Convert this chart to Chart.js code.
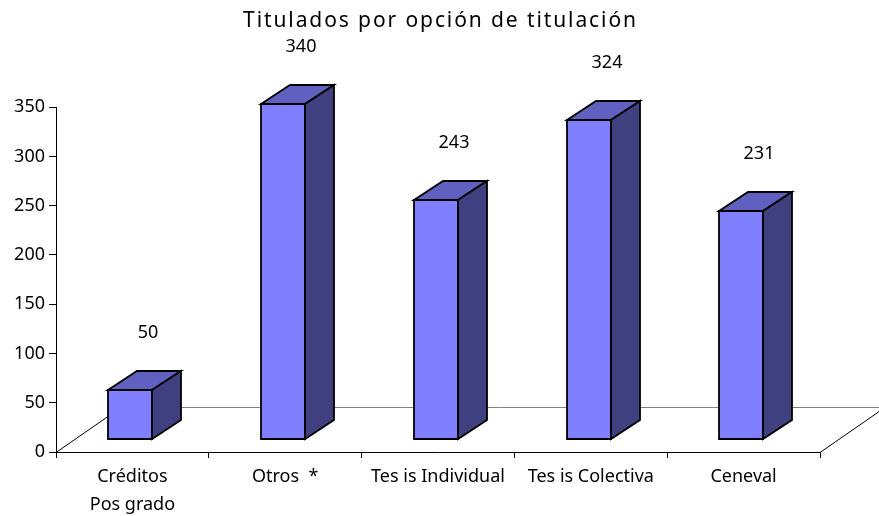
<!DOCTYPE html>
<html>
<head>
<meta charset="utf-8">
<title>Titulados por opción de titulación</title>
<script src="https://cdn.jsdelivr.net/npm/chart.js@4.4.1/dist/chart.umd.min.js"></script>
<style>
	html, body { margin: 0; padding: 0; background: #fff; }
	#wrap { width: 879px; height: 516px; position: relative; }
</style>
</head>
<body>
<div id="wrap"><canvas id="titulados"></canvas></div>
<script>
const chartTitle = 'Titulados por opción de titulación';
const categories = [['Créditos', 'Pos grado'], 'Otros  *', 'Tes is Individual', 'Tes is Colectiva', 'Ceneval'];
const titulados = [50, 340, 243, 324, 231];
const yTicks = [0, 50, 100, 150, 200, 250, 300, 350];

const fontFamily = '"Noto Sans", "DejaVu Sans", sans-serif';

// 3d look, in pixels
const floorDx = 65, floorDy = -45;
const faceDx = -2, faceDy = -13;
const barDx = 29, barDy = -19;

let chart = null;

// spread the title letters a bit and center it on the whole canvas, like the original
const titleSpacing = {
	id: 'titleSpacing',
	beforeDraw(chart) {
		let tb = chart.titleBlock;
		if (tb && !tb._spaced) {
			let orig = tb.draw.bind(tb);
			tb.draw = function() {
				this.ctx.save();
				this.ctx.letterSpacing = '1.9px';
				this.ctx.translate(chart.width / 2 - (this.left + this.right) / 2 + 1, 0);
				orig();
				this.ctx.restore();
			};
			tb._spaced = true;
		}
	}
};

const depth3d = {
	id: 'depth3d',
	beforeDatasetsDraw(chart) {
		let ctx = chart.ctx;
		let area = chart.chartArea;
		let b = Math.round(area.bottom) + 0.5;
		ctx.save();
		ctx.lineWidth = 1;
		ctx.strokeStyle = '#808080';
		ctx.beginPath();
		ctx.moveTo(area.left + floorDx, b + floorDy);
		ctx.lineTo(area.right + floorDx, b + floorDy);
		ctx.stroke();
		ctx.strokeStyle = '#000';
		ctx.beginPath();
		ctx.moveTo(area.left, b);
		ctx.lineTo(area.left + floorDx, b + floorDy);
		ctx.moveTo(area.right, b);
		ctx.lineTo(area.right + floorDx, b + floorDy);
		ctx.stroke();
		ctx.restore();
	},
	afterDatasetsDraw(chart) {
		let ctx = chart.ctx;
		let meta = chart.getDatasetMeta(0);
		ctx.save();
		ctx.lineWidth = 1.8;
		ctx.lineJoin = 'miter';
		ctx.strokeStyle = '#000';
		meta.data.forEach((el, i) => {
			let p = el.getProps(['x', 'y', 'base', 'width'], true);
			let L = Math.round(p.x - p.width / 2 + faceDx);
			let R = Math.round(L + p.width);
			let T = Math.round(p.y + faceDy);
			let B = Math.round(p.base + faceDy);

			// front
			ctx.fillStyle = '#8080FF';
			ctx.beginPath();
			ctx.rect(L, T, R - L, B - T);
			ctx.fill();
			ctx.stroke();

			// top
			ctx.fillStyle = '#6060C0';
			ctx.beginPath();
			ctx.moveTo(L, T);
			ctx.lineTo(L + barDx, T + barDy);
			ctx.lineTo(R + barDx, T + barDy);
			ctx.lineTo(R, T);
			ctx.closePath();
			ctx.fill();
			ctx.stroke();

			// side
			ctx.fillStyle = '#404080';
			ctx.beginPath();
			ctx.moveTo(R, T);
			ctx.lineTo(R + barDx, T + barDy);
			ctx.lineTo(R + barDx, B + barDy);
			ctx.lineTo(R, B);
			ctx.closePath();
			ctx.fill();
			ctx.stroke();

			// value label
			ctx.fillStyle = '#000';
			ctx.font = '18px ' + fontFamily;
			ctx.textAlign = 'center';
			ctx.textBaseline = 'middle';
			ctx.fillText(String(titulados[i]), (L + R) / 2 + 18, T + barDy - 38);
		});
		ctx.restore();
	}
};

function createChart(context) {
	if (chart) {
		chart.destroy();
	}

	let data = {
		labels: categories,
		datasets: [{
			label: 'Titulados',
			data: titulados,
			backgroundColor: 'rgba(0,0,0,0)',
			borderWidth: 0,
			barPercentage: 0.29,
			categoryPercentage: 1
		}]
	};

	let xScaleConfig = {
		offset: true,
		grid: {
			offset: true,
			drawOnChartArea: false,
			tickLength: 6,
			color: '#000'
		},
		border: {
			color: '#000',
			width: 1
		},
		ticks: {
			color: '#000',
			padding: 5,
			maxRotation: 0,
			autoSkip: false,
			font: { family: fontFamily, size: 18, lineHeight: '28px' }
		},
		afterFit: (scale) => { scale.height = 64; }
	};

	let yScaleConfig = {
		min: yTicks[0],
		max: yTicks[yTicks.length - 1],
		grid: {
			drawOnChartArea: false,
			tickLength: 7,
			color: '#000'
		},
		border: {
			color: '#000',
			width: 1
		},
		ticks: {
			stepSize: yTicks[1] - yTicks[0],
			color: '#000',
			padding: 4,
			font: { family: fontFamily, size: 18 }
		},
		afterFit: (scale) => { scale.width = 56; }
	};

	let config = {
		type: 'bar',
		data: data,
		options: {
			responsive: true,
			maintainAspectRatio: false,
			animation: false,
			layout: {
				padding: { left: 0, right: 59, top: 0, bottom: 0 }
			},
			scales: {
				x: xScaleConfig,
				y: yScaleConfig
			},
			plugins: {
				legend: { display: false },
				tooltip: { enabled: false },
				title: {
					display: true,
					text: chartTitle,
					color: '#000',
					font: { family: fontFamily, size: 21, weight: 'normal' },
					padding: { top: 8, bottom: 74 }
				}
			}
		},
		plugins: [titleSpacing, depth3d]
	};

	chart = new Chart(context, config);
}

document.addEventListener('DOMContentLoaded', () => {
	let canvas = document.getElementById('titulados');
	createChart(canvas.getContext('2d'));
});
</script>
</body>
</html>
